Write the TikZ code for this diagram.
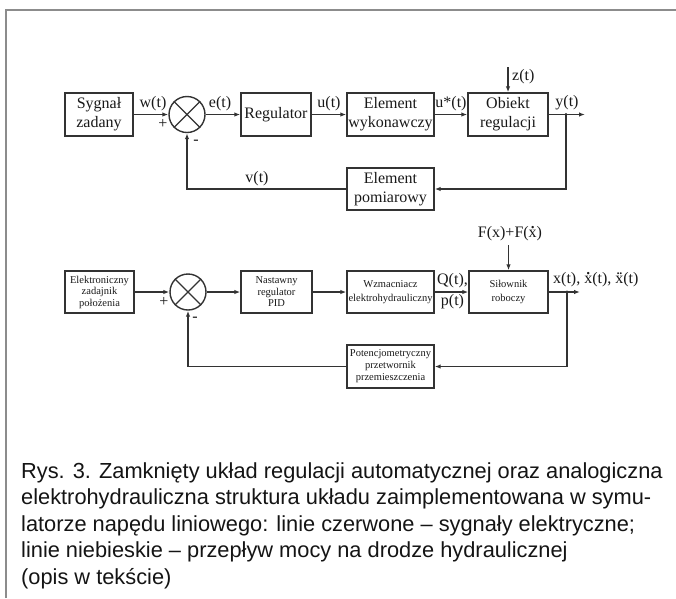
\documentclass[tikz,border=0pt]{standalone}
\usepackage{fontspec}
\setmainfont{Liberation Serif}
\newfontfamily\capfont{Liberation Sans}
\usetikzlibrary{arrows.meta}
\newcommand\xdt{\ooalign{x\cr\hidewidth\textbf{\char"02D9}\hidewidth\cr}}
\newcommand\xdd{\ooalign{x\cr\hidewidth\textbf{\char"00A8}\hidewidth\cr}}
\begin{document}
\begin{tikzpicture}[x=1pt,y=-1pt,
  blk/.style={draw=black!80, line width=1.4pt, minimum height=43pt, inner sep=0pt, align=center,
    font=\fontsize{16}{19}\selectfont, text=black!90},
  sblk/.style={blk, font=\fontsize{10.5}{11.5}\selectfont},
  sblkb/.style={blk, font=\fontsize{10.5}{13.5}\selectfont},
  sumc/.style={draw=black!80, line width=1.4pt, circle, minimum size=36pt, inner sep=0pt},
  cross/.style={draw=black!80, line width=1.3pt},
  wire/.style={draw=black!80, line width=1.2pt},
  arr/.style={wire, -{Latex[length=6pt,width=4.5pt]}},
  jdot/.style={fill=black!80, circle, inner sep=0pt, minimum size=3.2pt},
  lab/.style={font=\fontsize{16}{19}\selectfont, inner sep=0pt, text=black!90},
  captxt/.style={font=\capfont\fontsize{21.8}{26.5}\selectfont, inner sep=0pt, anchor=base west, text=black!92},
  framel/.style={draw=black!45, line width=1.5pt}
]
\useasboundingbox (0,0) rectangle (676,598);
\draw[framel] (6,598) -- (6,10) -- (677,10);

% ---------- top diagram ----------
\node[blk, minimum width=68pt] (sz) at (99,114.5) {Sygnał\\zadany};
\node[sumc] (s1) at (187,114.5) {};
\node[blk, minimum width=70pt] (reg) at (276,114.5) {Regulator};
\node[blk, minimum width=87pt] (wyk) at (390.5,114.5) {Element\\wykonawczy};
\node[blk, minimum width=80pt] (obj) at (508,114.5) {Obiekt\\regulacji};
\node[blk, minimum width=87pt, minimum height=42pt] (pom) at (390.5,189) {Element\\pomiarowy};
\coordinate (yout) at (585,114.5);
\coordinate (ybr) at (566,114.5);
\coordinate (ztop) at (508,67);
\draw[cross] (s1.north west) -- (s1.south east) (s1.north east) -- (s1.south west);

\draw[arr] (sz.east) -- (s1.west);
\draw[arr] (s1.east) -- (reg.west);
\draw[arr] (reg.east) -- (wyk.west);
\draw[arr] (wyk.east) -- (obj.west);
\draw[arr] (obj.east) -- (yout);
\draw[arr] (ztop) -- (obj.north);
\draw[arr] (ybr) |- (pom.east);
\draw[arr] (pom.west) -| (s1.south);
\node[jdot] (j1) at (ybr) {};

\node[lab] (lw) at (153,104) {w(t)};
\node[lab] (le) at (220,104) {e(t)};
\node[lab] (lu) at (329,104) {u(t)};
\node[lab] (lus) at (451,104) {u*(t)};
\node[lab] (ly) at (567,103) {y(t)};
\node[lab, anchor=west] (lz) at (512,77) {z(t)};
\node[lab] (lv) at (257,179) {v(t)};
\node[lab] (lp1) at (163,124) {+};
\node[lab] (lm1) at (196,142) {-};

% ---------- bottom diagram ----------
\node[sblk, minimum width=69pt, minimum height=42pt] (ez) at (99.5,292) {Elektroniczny\\zadajnik\\położenia};
\node[sumc] (s2) at (188,292) {};
\node[sblk, minimum width=71pt, minimum height=42pt] (pid) at (276.5,292) {Nastawny\\regulator\\PID};
\node[sblkb, minimum width=87pt, minimum height=42pt] (wzm) at (390.5,292) {Wzmacniacz\\elektrohydrauliczny};
\node[sblkb, minimum width=79pt, minimum height=42pt] (sil) at (508.5,292) {Siłownik\\roboczy};
\node[sblk, minimum width=87pt, minimum height=43pt, font=\fontsize{10.5}{12}\selectfont] (pot) at (390.5,366.5) {Potencjometryczny\\przetwornik\\przemieszczenia};
\coordinate (xout) at (580,292);
\coordinate (xbr) at (567,292);
\coordinate (ftop) at (508.5,245);
\draw[cross] (s2.north west) -- (s2.south east) (s2.north east) -- (s2.south west);

\draw[arr] (ez.east) -- (s2.west);
\draw[arr] (s2.east) -- (pid.west);
\draw[arr] (pid.east) -- (wzm.west);
\draw[arr] (wzm.east) -- (sil.west);
\draw[arr] (sil.east) -- (xout);
\draw[arr] (ftop) -- (sil.north);
\draw[arr] (xbr) |- (pot.east);
\draw[arr] (pot.west) -| (s2.south);
\node[jdot] (j2) at (xbr) {};

\node[lab] (lq) at (452.5,281) {Q(t),};
\node[lab] (lpt) at (452.5,302) {p(t)};
\node[lab, anchor=west] (lx) at (553,280) {x(t), \xdt(t), \xdd(t)};
\node[lab] (lf) at (510,234) {F(x)+F(\xdt)};
\node[lab] (lp2) at (164,302) {+};
\node[lab] (lm2) at (195,319) {-};

% ---------- caption ----------
\node[captxt] (c1) at (21,478) {Rys. 3. Zamknięty układ regulacji automatycznej oraz analogiczna};
\node[captxt] (c2) at (21,504.5) {elektrohydrauliczna struktura układu zaimplementowana w symu-};
\node[captxt] (c3) at (21,531) {latorze napędu liniowego: linie czerwone – sygnały elektryczne;};
\node[captxt] (c4) at (21,557.5) {linie niebieskie – przepływ mocy na drodze hydraulicznej};
\node[captxt] (c5) at (21,584) {(opis w tekście)};
\end{tikzpicture}
\end{document}
